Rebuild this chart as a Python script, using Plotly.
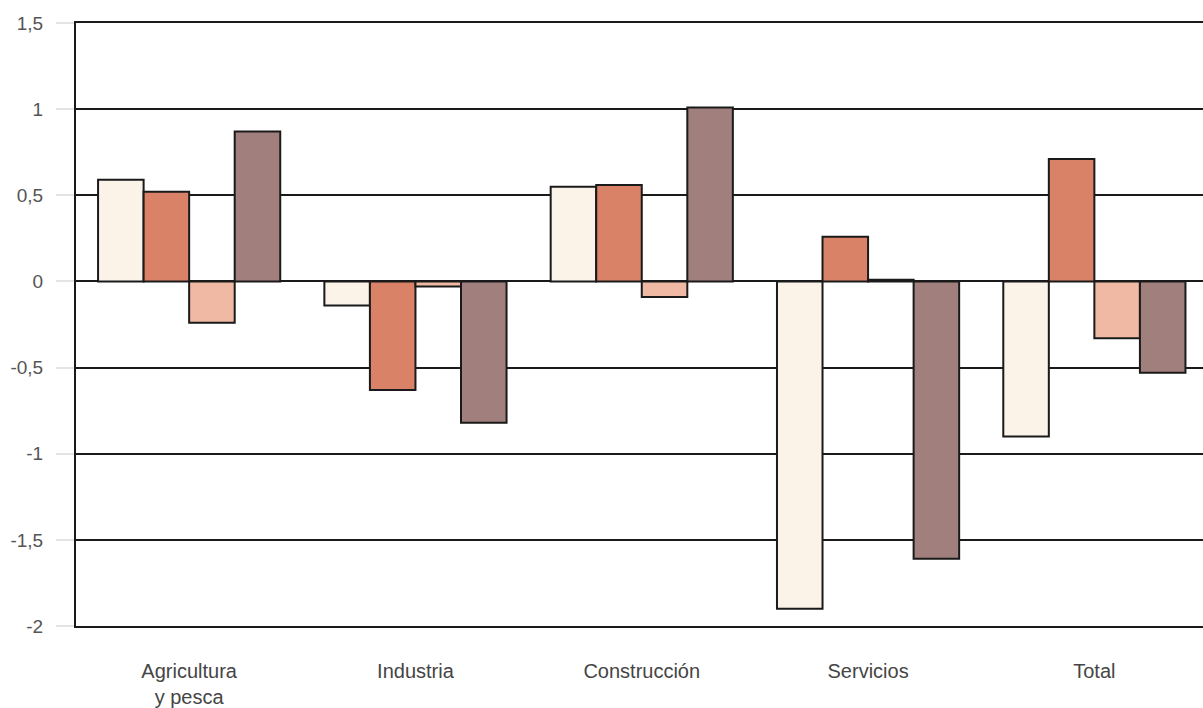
import plotly.graph_objects as go

# Sectors on the x axis
categories = ["Agricultura<br>y pesca", "Industria", "Construcción", "Servicios", "Total"]

# Four series per sector (variation, percentage points)
serie_1 = [0.59, -0.14, 0.55, -1.90, -0.90]
serie_2 = [0.52, -0.63, 0.56, 0.26, 0.71]
serie_3 = [-0.24, -0.03, -0.09, 0.01, -0.33]
serie_4 = [0.87, -0.82, 1.01, -1.61, -0.53]

y_ticks = [-2, -1.5, -1, -0.5, 0, 0.5, 1, 1.5]
y_tick_labels = ["-2", "-1,5", "-1", "-0,5", "0", "0,5", "1", "1,5"]

colors = ["#fbf2e8", "#d98268", "#f0b9a3", "#a07f7d"]
series = [serie_1, serie_2, serie_3, serie_4]

fig = go.Figure()
for values, color in zip(series, colors):
    fig.add_trace(go.Bar(
        x=categories,
        y=values,
        marker=dict(color=color, line=dict(color="#1a1a1a", width=2)),
        showlegend=False,
    ))

fig.update_layout(
    width=1203,
    height=708,
    margin=dict(l=76, r=0, t=23, b=75),
    paper_bgcolor="white",
    plot_bgcolor="white",
    barmode="group",
    bargap=0.195,
    bargroupgap=0,
    font=dict(family="Liberation Sans, Arial, sans-serif", size=18, color="#4a4a4a"),
)

fig.update_xaxes(
    type="category",
    range=[-0.5, 4.48],
    showgrid=False,
    showline=True,
    mirror=True,
    linecolor="#1a1a1a",
    linewidth=2,
    ticks="",
    ticklabelstandoff=26,
    tickfont=dict(size=20, color="#454545"),
)

fig.update_yaxes(
    range=[-2, 1.5],
    tickvals=y_ticks,
    ticktext=y_tick_labels,
    showgrid=True,
    gridcolor="#1a1a1a",
    gridwidth=2,
    zeroline=True,
    zerolinecolor="#1a1a1a",
    zerolinewidth=2,
    showline=True,
    linecolor="#1a1a1a",
    linewidth=2,
    ticks="outside",
    ticklen=18,
    tickcolor="#e4e4e4",
    tickwidth=2,
    ticklabelstandoff=9,
    tickfont=dict(size=19, color="#555555"),
)

fig.write_html("out.html")
